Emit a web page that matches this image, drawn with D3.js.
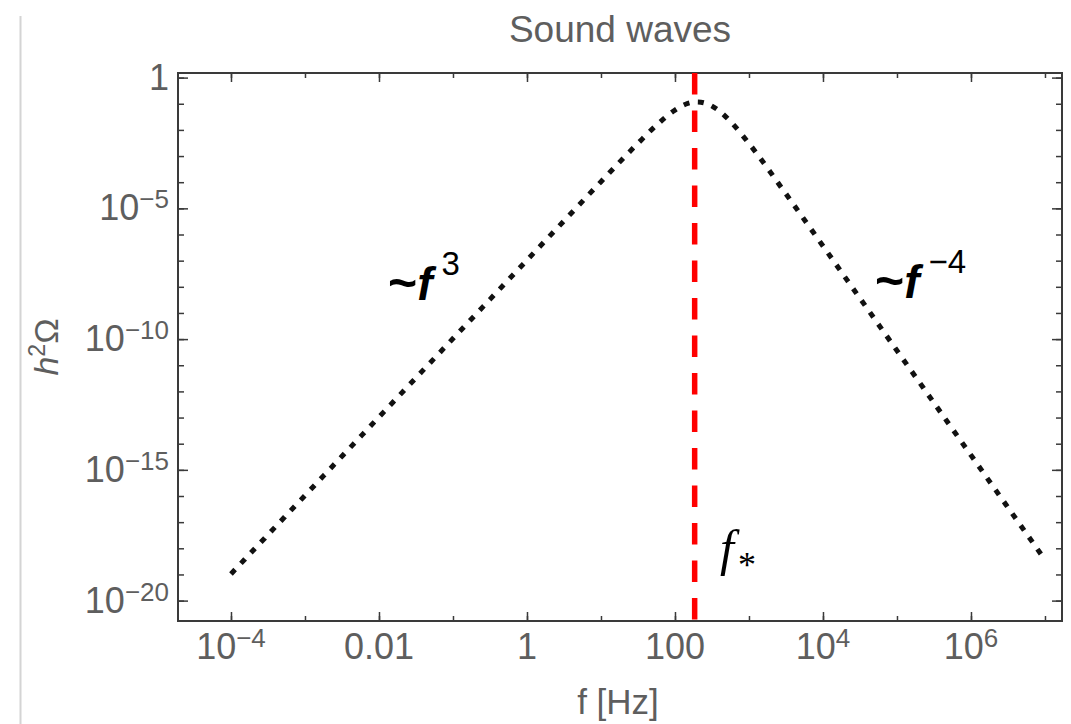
<!DOCTYPE html>
<html><head><meta charset="utf-8">
<script src="https://cdn.jsdelivr.net/npm/d3@7"></script>
<style>body{margin:0;background:#fff}svg{display:block}</style>
</head><body>
<svg id="chart" width="1071" height="724"></svg>
<script>
// ---- data ----
const log10Freq  = [-4, -3.5, -3, -2.5, -2, -1.5, -1, -0.5, 0, 0.5, 1, 1.5, 1.75, 2, 2.15, 2.3, 2.45, 2.6, 2.75, 3, 3.5, 4, 4.5, 5, 5.5, 6, 6.5, 7];
const log10Omega = [-18.98, -17.48, -15.98, -14.48, -12.98, -11.48, -9.98, -8.48, -6.98, -5.48, -3.98, -2.51, -1.82, -1.24, -1.01, -0.93, -1.02, -1.28, -1.68, -2.52, -4.45, -6.44, -8.44, -10.44, -12.44, -14.44, -16.44, -18.44];
const fStar = 184.5;
const xTickExps  = [-4, -3, -2, -1, 0, 1, 2, 3, 4, 5, 6, 7];
const xMajorExps = [-4, -2, 0, 2, 4, 6];
const xTickLabels = [["10", "\u22124"], ["0.01", ""], ["1", ""], ["100", ""], ["10", "4"], ["10", "6"]];
const yTickExps  = d3.range(0, -21, -1);
const yMajorExps = [0, -5, -10, -15, -20];
const yTickLabels = [["1", ""], ["10", "\u22125"], ["10", "\u221210"], ["10", "\u221215"], ["10", "\u221220"]];
const title = "Sound waves";
const xTitle = "f [Hz]";

// ---- layout ----
const W = 1071, H = 724;
const m = {left: 178, top: 73, right: 9, bottom: 103};
const pw = W - m.left - m.right, ph = H - m.top - m.bottom;
const sans = "'Liberation Sans', Arial, sans-serif";
const grey = "#5e5e5e";

const svg = d3.select("#chart");
svg.append("line").attr("x1", 20.5).attr("x2", 20.5).attr("y1", 16).attr("y2", H)
  .attr("stroke", "#d4d4d4").attr("stroke-width", 2);

const x = d3.scaleLog().domain([Math.pow(10, -4.716), Math.pow(10, 7.23)]).range([m.left, m.left + pw]);
const y = d3.scaleLog().domain([Math.pow(10, -20.78), Math.pow(10, 0.176)]).range([m.top + ph, m.top]);

const axisColor = "#3a3a3a";
function styleAxis(g) {
  g.select(".domain").remove();
  g.selectAll("line").attr("stroke", axisColor).attr("stroke-width", 1.5);
  g.selectAll("text").remove();
}
const xt = xTickExps.map(e => Math.pow(10, e));
const xm = xMajorExps.map(e => Math.pow(10, e));
const yt = yTickExps.map(e => Math.pow(10, e));
const ym = yMajorExps.map(e => Math.pow(10, e));

svg.append("g").attr("transform", `translate(0,${m.top + ph})`).call(d3.axisBottom(x).tickValues(xt).tickSize(-5)).call(styleAxis);
svg.append("g").attr("transform", `translate(0,${m.top + ph})`).call(d3.axisBottom(x).tickValues(xm).tickSize(-9)).call(styleAxis);
svg.append("g").attr("transform", `translate(0,${m.top})`).call(d3.axisTop(x).tickValues(xt).tickSize(-5)).call(styleAxis);
svg.append("g").attr("transform", `translate(0,${m.top})`).call(d3.axisTop(x).tickValues(xm).tickSize(-9)).call(styleAxis);
svg.append("g").attr("transform", `translate(${m.left},0)`).call(d3.axisLeft(y).tickValues(yt).tickSize(-6)).call(styleAxis);
svg.append("g").attr("transform", `translate(${m.left},0)`).call(d3.axisLeft(y).tickValues(ym).tickSize(-10)).call(styleAxis);
svg.append("g").attr("transform", `translate(${m.left + pw},0)`).call(d3.axisRight(y).tickValues(yt).tickSize(-6)).call(styleAxis);
svg.append("g").attr("transform", `translate(${m.left + pw},0)`).call(d3.axisRight(y).tickValues(ym).tickSize(-10)).call(styleAxis);

svg.append("rect").attr("x", m.left).attr("y", m.top).attr("width", pw).attr("height", ph)
  .attr("fill", "none").attr("stroke", axisColor).attr("stroke-width", 2);

function label(sel, parts) {
  sel.append("tspan").text(parts[0]);
  if (parts[1]) sel.append("tspan").attr("font-size", 26).attr("dy", -12).text(parts[1]);
}
xMajorExps.forEach((e, i) => {
  const t = svg.append("text").attr("x", x(Math.pow(10, e))).attr("y", 659)
    .attr("text-anchor", "middle").attr("font-family", sans).attr("font-size", 36).attr("fill", grey);
  label(t, xTickLabels[i]);
});
yMajorExps.forEach((e, i) => {
  const t = svg.append("text").attr("x", 169).attr("y", y(Math.pow(10, e)) + 12)
    .attr("text-anchor", "end").attr("font-family", sans).attr("font-size", 36).attr("fill", grey);
  label(t, yTickLabels[i]);
});

svg.append("text").attr("x", m.left + pw / 2).attr("y", 42).attr("text-anchor", "middle")
  .attr("font-family", sans).attr("font-size", 37).attr("fill", grey).text(title);
svg.append("text").attr("x", 618).attr("y", 714).attr("text-anchor", "middle")
  .attr("font-family", sans).attr("font-size", 35).attr("fill", grey).text(xTitle);
const yl = svg.append("text").attr("transform", `translate(58,${m.top + ph / 2}) rotate(-90)`)
  .attr("text-anchor", "middle").attr("font-family", sans).attr("font-size", 34).attr("fill", grey);
yl.append("tspan").attr("font-style", "italic").text("h");
yl.append("tspan").attr("font-size", 23).attr("dy", -13).text("2");
yl.append("tspan").attr("dy", 13).text("\u03A9");

svg.append("line").attr("x1", x(fStar)).attr("x2", x(fStar)).attr("y1", m.top).attr("y2", m.top + ph)
  .attr("stroke", "#ff0000").attr("stroke-width", 5.5).attr("stroke-dasharray", "21.5,16");

const pts = log10Freq.map((lf, i) => [x(Math.pow(10, lf)), y(Math.pow(10, log10Omega[i]))]);
svg.append("path").attr("d", d3.line().curve(d3.curveMonotoneX)(pts))
  .attr("fill", "none").attr("stroke", "#111").attr("stroke-width", 5).attr("stroke-dasharray", "6,8.5");

function slope(xp, yp, exp) {
  const t = svg.append("text").attr("x", xp).attr("y", yp).attr("font-family", sans).attr("font-size", 46).attr("fill", "#000");
  t.append("tspan").attr("font-weight", "bold").attr("font-size", 50).text("~");
  t.append("tspan").attr("font-weight", "bold").attr("font-style", "italic").text("f");
  t.append("tspan").attr("font-size", 33).attr("dy", -25).attr("dx", 9).text(exp);
}
slope(388, 300, "3");
slope(875, 298, "\u22124");

const fs = svg.append("text").attr("x", 720).attr("y", 565).attr("font-family", "'Liberation Serif', 'Times New Roman', serif")
  .attr("font-size", 50).attr("fill", "#000");
fs.append("tspan").attr("font-style", "italic").text("f");
fs.append("tspan").attr("font-size", 36).attr("dy", 12).attr("dx", 4).text("*");
</script>
</body></html>
